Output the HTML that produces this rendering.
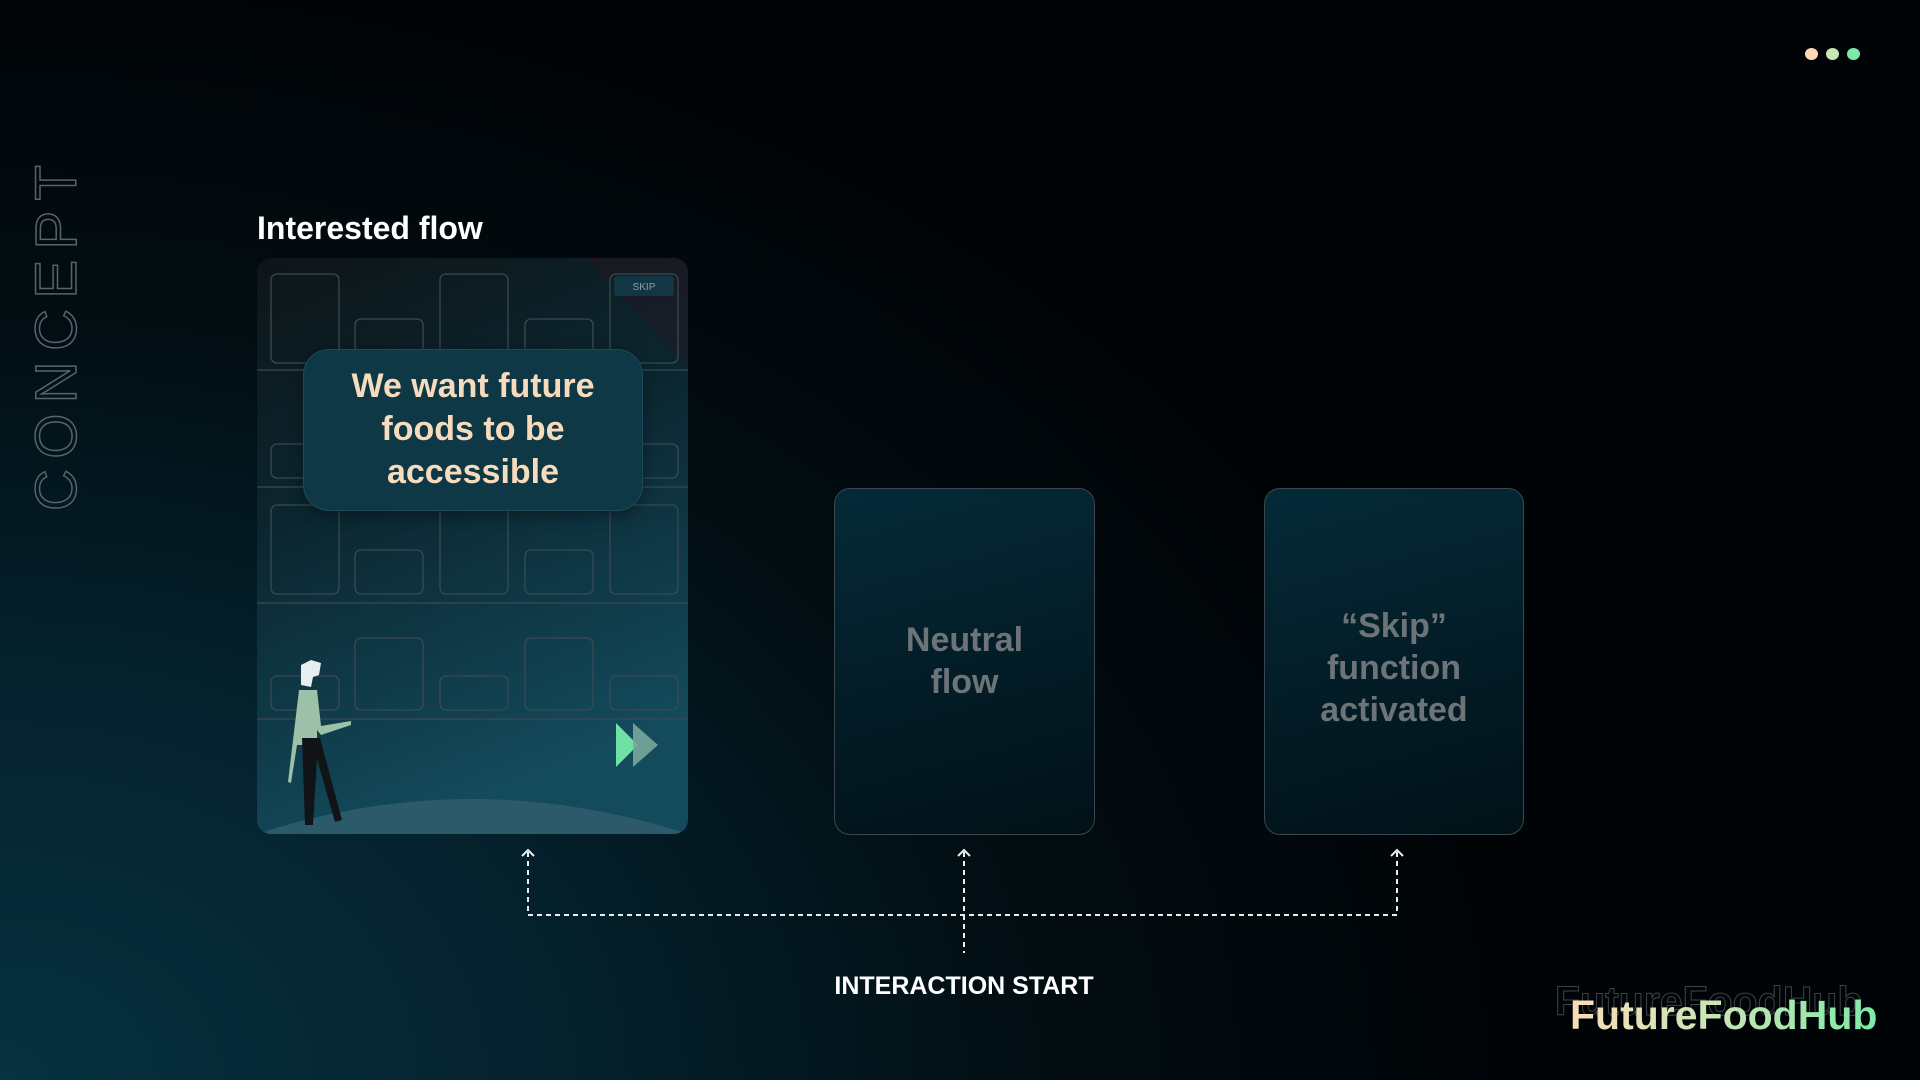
<!DOCTYPE html>
<html><head><meta charset="utf-8"><style>
html,body{margin:0;padding:0}
body{width:1920px;height:1080px;overflow:hidden;position:relative;font-family:"Liberation Sans",sans-serif;
background:radial-gradient(ellipse 1500px 1100px at 0% 100%, #073240 0%, #04202b 40%, #020d12 70%, #010407 100%);}
.abs{position:absolute}
.card{position:absolute;border:1.5px solid #3a474d;border-radius:16px;box-sizing:border-box;
background:linear-gradient(165deg,#042a38 0%,#031c26 55%,#021118 100%);}
.ctext{position:absolute;left:0;right:0;text-align:center;color:#6d7478;font-size:34px;line-height:42px;font-weight:bold;}
</style></head><body>
<!-- dots -->
<div class="abs" style="left:1805px;top:48px;width:13px;height:12px;border-radius:50%;background:#fcd9b4"></div>
<div class="abs" style="left:1826px;top:48px;width:13px;height:12px;border-radius:50%;background:#c6e6b4"></div>
<div class="abs" style="left:1847px;top:48px;width:13px;height:12px;border-radius:50%;background:#7ee8a8"></div>

<!-- CONCEPT -->
<svg class="abs" style="left:0;top:0" width="120" height="560">
<text x="0" y="0" transform="translate(76,511) rotate(-90)" font-family="Liberation Sans,sans-serif" font-size="58" textLength="346" lengthAdjust="spacing" fill="none" stroke="#56646b" stroke-width="1.5">CONCEPT</text>
</svg>

<div class="abs" style="left:257px;top:210px;color:#fff;font-size:32px;font-weight:bold">Interested flow</div>

<!-- card 1 -->
<svg class="abs" style="left:257px;top:258px" width="432" height="577" viewBox="0 0 432 577">
<defs>
<linearGradient id="g1" x1="0" y1="0" x2="0.3" y2="1">
<stop offset="0" stop-color="#0e1518"/><stop offset="0.45" stop-color="#0b2630"/><stop offset="1" stop-color="#134a5c"/></linearGradient>
<clipPath id="c"><rect x="0" y="0" width="431" height="576" rx="14"/></clipPath>
</defs>
<g clip-path="url(#c)">
<rect width="431" height="576" fill="url(#g1)"/>
<polygon points="330,0 431,0 431,110" fill="#2a1420" opacity="0.4"/>
<g fill="none" stroke="#3a4a52" stroke-width="1.3">
<rect x="14" y="16" width="68" height="89" rx="6"/><rect x="98" y="61" width="68" height="50" rx="6"/>
<rect x="183" y="16" width="68" height="89" rx="6"/><rect x="268" y="61" width="68" height="50" rx="6"/>
<rect x="353" y="16" width="68" height="89" rx="6"/>
<line x1="0" y1="112" x2="431" y2="112"/>
<rect x="14" y="186" width="68" height="34" rx="6"/><rect x="353" y="186" width="68" height="34" rx="6"/>
<line x1="0" y1="229" x2="431" y2="229"/>
<rect x="14" y="247" width="68" height="89" rx="6"/><rect x="98" y="292" width="68" height="44" rx="6"/>
<rect x="183" y="247" width="68" height="89" rx="6"/><rect x="268" y="292" width="68" height="44" rx="6"/>
<rect x="353" y="247" width="68" height="89" rx="6"/>
<line x1="0" y1="345" x2="431" y2="345"/>
<rect x="14" y="418" width="68" height="34" rx="6"/><rect x="98" y="380" width="68" height="72" rx="6"/>
<rect x="183" y="418" width="68" height="34" rx="6"/><rect x="268" y="380" width="68" height="72" rx="6"/>
<rect x="353" y="418" width="68" height="34" rx="6"/>
<line x1="0" y1="461" x2="431" y2="461"/>
</g>
<path d="M0,576 Q215,506 431,576 Z" fill="#2c5a6b"/>
<rect x="357" y="18" width="60" height="20" rx="3" fill="#133645"/>
<text x="387" y="32" text-anchor="middle" font-size="10" fill="#8aa0aa" font-family="Liberation Sans,sans-serif">SKIP</text>
<polygon points="359,465 381,487 359,509" fill="#6fe0a6"/>
<polygon points="376,465 401,487 376,509" fill="#79a99a" opacity="0.9"/>
<!-- person -->
<path d="M44,407 l10,-5 l10,3 l-2,12 l-6,2 l-2,10 l-10,-2z" fill="#e8eef0"/>
<path d="M42,432 l18,0 l4,36 l30,-5 l0,4 l-30,10 l-4,-5 l0,15 l-20,0 l-6,38 l-3,-1 z" fill="#9cc0a8"/>
<path d="M45,480 l18,0 l22,82 l-7,2 l-18,-63 l-4,66 l-8,0 z" fill="#111417"/>
</g>
</svg>
<div class="abs" style="left:303px;top:349px;width:340px;height:162px;border-radius:26px;background:#0f3846;box-shadow:0 4px 14px rgba(0,0,0,.35);border:1px solid #1d4a58;box-sizing:border-box;text-align:center;color:#f6dcbc;font-size:34px;font-weight:bold;line-height:43px;padding-top:15px">We want future<br>foods to be<br>accessible</div>

<!-- card 2 -->
<div class="card" style="left:834px;top:488px;width:261px;height:347px">
<div class="ctext" style="top:130px">Neutral<br>flow</div></div>
<!-- card 3 -->
<div class="card" style="left:1264px;top:488px;width:260px;height:347px">
<div class="ctext" style="top:116px">“Skip”<br>function<br>activated</div></div>

<!-- connectors -->
<svg class="abs" style="left:0;top:0" width="1920" height="1080">
<g stroke="#e8eef0" stroke-width="2" fill="none">
<path d="M528,852 V915 H1397 V852" stroke-dasharray="5,4"/>
<path d="M964,852 V953" stroke-dasharray="5,4"/>
<path d="M522,856 L528,850 L534,856 M958,856 L964,850 L970,856 M1391,856 L1397,850 L1403,856"/>
</g>
</svg>
<div class="abs" style="left:764px;width:400px;top:972px;text-align:center;color:#fff;font-size:25px;font-weight:bold">INTERACTION START</div>

<!-- logo -->
<div class="abs" style="left:1555px;top:978px;font-size:41px;font-weight:bold;color:transparent;-webkit-text-stroke:1px #3c4448">FutureFoodHub</div>
<div class="abs" style="left:1570px;top:992px;font-size:41px;font-weight:bold;background:linear-gradient(90deg,#fcdcb8,#c6e6b4 50%,#7ee8a8);-webkit-background-clip:text;background-clip:text;color:transparent">FutureFoodHub</div>
</body></html>
